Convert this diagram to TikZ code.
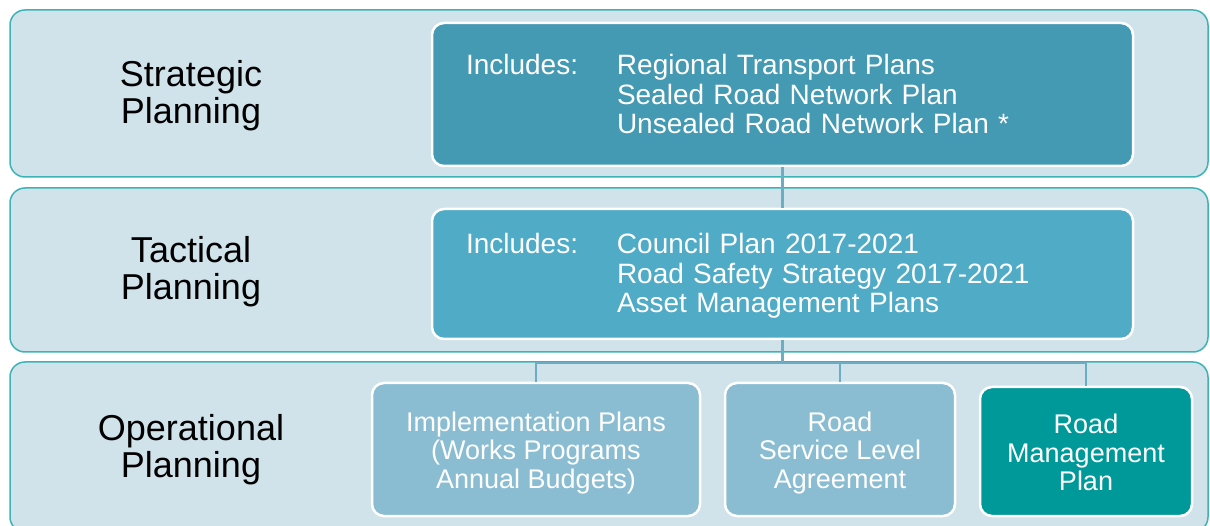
\documentclass[tikz,border=0pt]{standalone}
\usepackage{fontspec}
\setmainfont{Liberation Sans}
\usetikzlibrary{positioning}

\definecolor{bandfill}{HTML}{D0E2EA}
\definecolor{bandline}{HTML}{3DB3B5}
\definecolor{stratfill}{HTML}{4499B3}
\definecolor{tactfill}{HTML}{50ABC7}
\definecolor{opfill}{HTML}{8ABDD2}
\definecolor{rmpfill}{HTML}{009999}
\definecolor{linkline}{HTML}{6AAEC6}

\begin{document}
\begin{tikzpicture}[x=1pt,y=-1pt,
    band/.style={draw=bandline,line width=1.5pt,fill=bandfill,rounded corners=15pt},
    level/.style={font=\fontsize{36}{37}\selectfont,align=center},
    plan/.style={draw=white,line width=2.5pt,rounded corners=12pt,text=white},
    listbox/.style={plan,inner xsep=34pt,text width=633pt,align=left,
      font=\fontsize{28}{29.5}\selectfont},
    opbox/.style={plan,fill=opfill,minimum height=133pt,
      font=\fontsize{27}{28.5}\selectfont,align=center},
    link/.style={draw=linkline,line width=2.5pt}]
   \useasboundingbox (0,0) rectangle (1210,526);
   \clip (0,0) rectangle (1210,526);

   % planning levels
   \draw[band] (10,10) rectangle (1208,177);
   \draw[band] (10,188) rectangle (1208,352);
   \draw[band] (10,362) rectangle (1208,532);

   \node[level] (stratlbl) at (191,96) {Strategic\\Planning};
   \node[level] (tactlbl) at (191,272) {Tactical\\Planning};
   \node[level] (oplbl) at (191,450) {Operational\\Planning};

   % plans
   \node[listbox,fill=stratfill,minimum height=143pt] (strat) at (782.5,94.5)
     {\begin{tabular}{@{}p{151pt}@{}l@{}}
       \rule{0pt}{28.5pt}Includes: & Regional Transport Plans\\
                 & Sealed Road Network Plan\\
                 & Unsealed Road Network Plan *
      \end{tabular}};
   \node[listbox,fill=tactfill,minimum height=130pt] (tact) at (782.5,274)
     {\begin{tabular}{@{}p{151pt}@{}l@{}}
       \rule{0pt}{27pt}Includes: & Council Plan 2017-2021\\
                 & Road Safety Strategy 2017-2021\\
                 & Asset Management Plans
      \end{tabular}};

   \node[opbox,minimum width=328pt] (impl) at (536,449.5)
     {\rule{0pt}{26pt}Implementation Plans\\(Works Programs\\Annual Budgets)};
   \node[opbox,minimum width=230pt] (sla) at (840,449.5)
     {\rule{0pt}{26pt}Road\\Service Level\\Agreement};
   \node[opbox,fill=rmpfill,minimum width=212pt,minimum height=129pt] (rmp) at (1086,451.5)
     {\rule{0pt}{22pt}Road\\Management\\Plan};

   % links
   \draw[link] (strat.south) -- (tact.north);
   \path (tact.south) ++(0,23) coordinate (bus);
   \draw[link] (tact.south) -- (bus) -| (impl.north);
   \draw[link] (bus) -| (sla.north);
   \draw[link] (bus) -| (rmp.north);
\end{tikzpicture}
\end{document}
